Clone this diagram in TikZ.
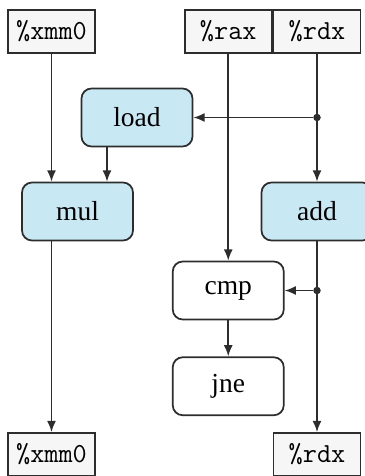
\documentclass[tikz,border=0pt]{standalone}
\usepackage{fontspec}
\setmainfont{Liberation Serif}
\usepackage{tikz}
\usetikzlibrary{positioning,arrows.meta}

\definecolor{opblue}{RGB}{200,232,243}
\definecolor{regbg}{RGB}{246,246,246}
\definecolor{edge}{RGB}{45,45,45}

\begin{document}
\begin{tikzpicture}[
  node distance=14pt,
  reg/.style={draw=edge, line width=0.7pt, fill=regbg, minimum width=34.8pt, minimum height=17.2pt, inner sep=0pt, font=\ttfamily\fontsize{11}{12}\selectfont},
  op/.style={draw=edge, line width=0.7pt, rounded corners=4pt, minimum width=44.4pt, minimum height=23.2pt, inner sep=0pt, font=\fontsize{11}{13}\selectfont},
  unit/.style={op, fill=opblue},
  arrow/.style={-{Latex[length=4.5pt,width=3.6pt]}, line width=0.7pt, draw=edge},
  fork/.style={circle, fill=edge, inner sep=0pt, minimum size=3pt}
]
\useasboundingbox (0,0) rectangle (146pt,-190.4pt);
% registers in
\node[reg] (xmmin) at (20.6pt,-12.6pt) {\%xmm0};
\node[reg, right=35.2pt of xmmin] (rax) {\%rax};
\node[reg, right=0pt of rax] (rdxin) {\%rdx};
% operations
\node[unit] (load) at (54.8pt,-47pt) {load};
\node[unit] (mul) at (31pt,-84.6pt) {mul};
\node[unit] (add) at (rdxin |- mul) {add};
\node[op] (cmp) at (rax |- 0,-116.2pt) {cmp};
\node[op, below=14.4pt of cmp] (jne) {jne};
% registers out
\node[reg] (xmmout) at (xmmin |- 0,-181.8pt) {\%xmm0};
\node[reg] (rdxout) at (rdxin |- xmmout) {\%rdx};
\node[fork] (fork1) at (rdxin.south |- load.east) {};
\node[fork] (fork2) at (rdxin.south |- cmp.east) {};
\draw[arrow] (xmmin.south) -- (xmmin.south |- mul.north);
\draw[arrow] ([xshift=-12pt]load.south) -- ([xshift=11.8pt]mul.north);
\draw[arrow] (xmmin.south |- mul.south) -- (xmmout.north);
\draw[arrow] (rax.south) -- (cmp.north);
\draw[arrow] (cmp) -- (jne);
\draw[arrow] (rdxin.south) -- (add.north);
\draw[arrow] (fork1) -- (load.east);
\draw[arrow] (add.south) -- (rdxout.north);
\draw[arrow] (fork2) -- (cmp.east);
\end{tikzpicture}
\end{document}
